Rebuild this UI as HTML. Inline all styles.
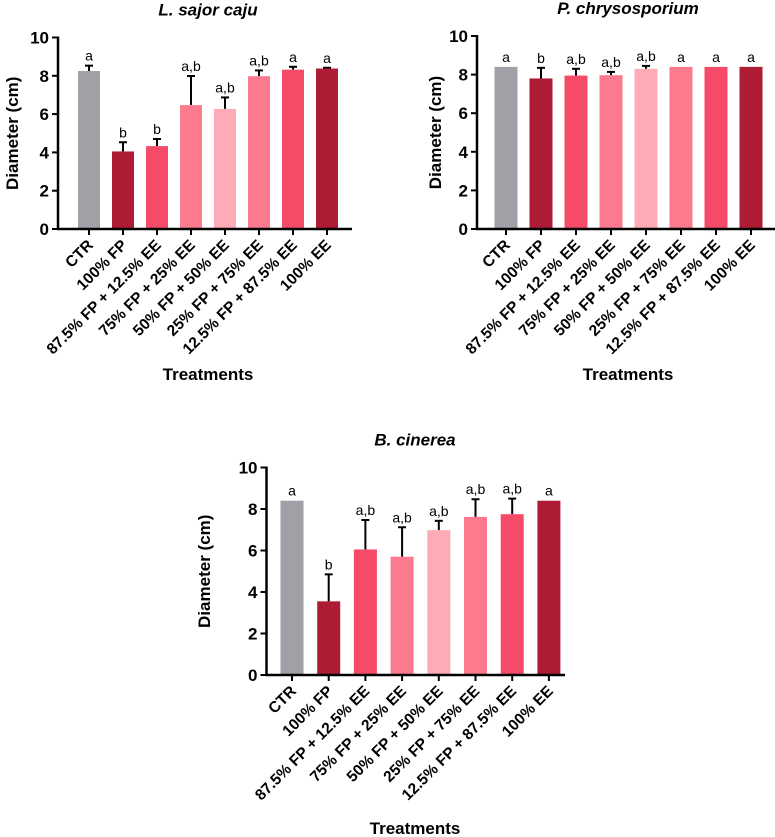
<!DOCTYPE html>
<html><head><meta charset="utf-8"><style>
body{margin:0;background:#fff;}
svg{display:block;font-family:"Liberation Sans",Arial,sans-serif;}
</style></head><body>
<svg id="c" width="775" height="837"></svg>
<script>
const categories=["CTR","100% FP","87.5% FP + 12.5% EE","75% FP + 25% EE","50% FP + 50% EE","25% FP + 75% EE","12.5% FP + 87.5% EE","100% EE"];
const yTicks=[0,2,4,6,8,10];
const lsValues=[8.25,4.05,4.33,6.47,6.27,7.98,8.32,8.38];
const lsErrors=[0.28,0.48,0.37,1.52,0.6,0.3,0.15,0.04];
const lsLetters=["a","b","b","a,b","a,b","a,b","a","a"];
const pcValues=[8.4,7.8,7.95,7.97,8.3,8.4,8.4,8.4];
const pcErrors=[0,0.55,0.35,0.17,0.15,0,0,0];
const pcLetters=["a","b","a,b","a,b","a,b","a","a","a"];
const bcValues=[8.4,3.55,6.05,5.7,6.98,7.62,7.75,8.4];
const bcErrors=[0,1.3,1.42,1.42,0.45,0.85,0.75,0];
const bcLetters=["a","b","a,b","a,b","a,b","a,b","a,b","a"];
const colors=["#a1a0a6","#ad1b34","#f64b68","#fb7a8d","#fdabb6","#fb7a8d","#f64b68","#ad1b34"];
const NS="http://www.w3.org/2000/svg";
const svg=document.getElementById('c');
function mk(tag,attrs,parent,text){const e=document.createElementNS(NS,tag);for(const k in attrs)e.setAttribute(k,attrs[k]);if(text!==undefined)e.textContent=text;(parent||svg).appendChild(e);return e;}
function chart(id,title,vals,errs,letters,ax,y10,y0,x0,step,bw,axEnd,titleX,yTitleX,xTitleY){
  const g=mk('g',{});
  
  
  const ys=v=>y0+(y10-y0)*v/10;
  const xs=i=>x0+i*step;
  const t=mk('text',{x:titleX,y:y10-22,'text-anchor':'middle','font-size':17,'font-weight':'bold','font-style':'italic'},g,title);
  
  
  vals.forEach((v,i)=>{
    const cx=xs(i),top=ys(v),et=ys(v+errs[i]);
    if(errs[i]>0){mk('line',{x1:cx,x2:cx,y1:top,y2:et,stroke:'#000','stroke-width':2},g);mk('line',{x1:cx-4,x2:cx+4,y1:et,y2:et,stroke:'#000','stroke-width':2},g);}
    const r=mk('rect',{x:cx-bw/2,y:top,width:bw,height:y0-top,fill:colors[i]},g);
    
    
    const l=mk('text',{x:cx,y:et-5,'text-anchor':'middle','font-size':14},g,letters[i]);
    
    
    mk('line',{x1:cx,x2:cx,y1:y0,y2:y0+6,stroke:'#000','stroke-width':2},g);
    const c=mk('text',{x:cx+5,y:y0+17,'text-anchor':'end','font-size':15.5,'font-weight':'bold',transform:`rotate(-45 ${cx+5} ${y0+17})`},g,categories[i]);
    
    
  });
  mk('line',{x1:ax,x2:ax,y1:y10-1,y2:y0+1,stroke:'#000','stroke-width':2.5},g);
  mk('line',{x1:ax-1,x2:axEnd,y1:y0,y2:y0,stroke:'#000','stroke-width':2.5},g);
  yTicks.forEach(v=>{
    mk('line',{x1:ax-6,x2:ax,y1:ys(v),y2:ys(v),stroke:'#000','stroke-width':2},g);
    const tl=mk('text',{x:ax-9,y:ys(v)+6,'text-anchor':'end','font-size':17,'font-weight':'bold'},g,v);
    
    
  });
  const yc=(y10+y0)/2;
  const yt=mk('text',{x:yTitleX,y:yc,'text-anchor':'middle','font-size':17,'font-weight':'bold',transform:`rotate(-90 ${yTitleX} ${yc})`},g,'Diameter (cm)');
  
  
  const xt=mk('text',{x:titleX,y:xTitleY,'text-anchor':'middle','font-size':17,'font-weight':'bold'},g,'Treatments');
  
  
}
chart('l-sajor-caju','L. sajor caju',lsValues,lsErrors,lsLetters,58,37.5,229,89,34,22,352,208,18,380);
chart('p-chrysosporium','P. chrysosporium',pcValues,pcErrors,pcLetters,477,36,229,506,35,23,775,628,441,380);
chart('b-cinerea','B. cinerea',bcValues,bcErrors,bcLetters,266.5,467.5,675,292,36.7,23,565,415,210,834);
</script>
</body></html>
